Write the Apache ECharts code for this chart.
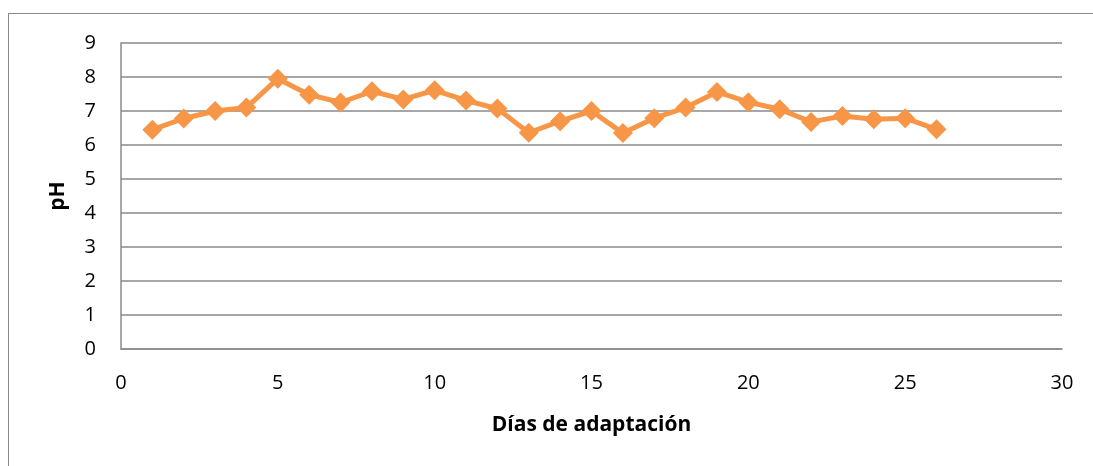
<!DOCTYPE html>
<html>
<head>
<meta charset="utf-8">
<script src="https://cdn.jsdelivr.net/npm/echarts@6/dist/echarts.min.js"></script>
<style>
  html, body { margin: 0; padding: 0; background: #fff; }
  #chart { width: 1093px; height: 466px; }
  .frame {
    position: absolute;
    left: 8px;
    top: 13px;
    right: 0;
    bottom: 0;
    border-top: 1.5px solid #8a8a8a;
    border-left: 1.5px solid #8a8a8a;
    pointer-events: none;
  }
</style>
</head>
<body>
<div id="chart"></div>
<div class="frame"></div>
<script>
// ============ Data ============
const days = [1, 2, 3, 4, 5, 6, 7, 8, 9, 10, 11, 12, 13, 14, 15, 16, 17, 18, 19, 20, 21, 22, 23, 24, 25, 26]
const phValues = [6.45, 6.78, 7.0, 7.1, 7.95, 7.48, 7.25, 7.58, 7.34, 7.61, 7.31, 7.07, 6.36, 6.7, 7.0,
  6.35, 6.79, 7.1, 7.56, 7.26, 7.05, 6.68, 6.85, 6.76, 6.79, 6.46]

const xTitle = 'Días de adaptación'
const yTitle = 'pH'

const font = '"Open Sans", "Noto Sans", sans-serif'
const gridColor = '#8a8a8a'

const chart = echarts.init(document.getElementById('chart'))
chart.setOption({
  animation: false,
  grid: { left: 121, right: 31, top: 43, bottom: 117 },
  xAxis: {
    type: 'value',
    min: 0,
    max: 30,
    interval: 5,
    name: xTitle,
    nameLocation: 'middle',
    nameGap: 66,
    nameTextStyle: { fontFamily: font, fontSize: 21, fontWeight: 'bold', color: '#000' },
    axisLine: { show: true, lineStyle: { color: gridColor, width: 1.5 } },
    axisTick: { show: false },
    axisLabel: { fontFamily: font, fontSize: 20, color: '#000', margin: 24 },
    splitLine: { show: false },
  },
  yAxis: {
    type: 'value',
    min: 0,
    max: 9,
    interval: 1,
    name: yTitle,
    nameLocation: 'middle',
    nameGap: 52,
    nameRotate: 90,
    nameTextStyle: { fontFamily: font, fontSize: 21, fontWeight: 'bold', color: '#000' },
    axisLine: { show: true, lineStyle: { color: gridColor, width: 1.5 } },
    axisTick: { show: false },
    axisLabel: { fontFamily: font, fontSize: 20, color: '#000', margin: 25 },
    splitLine: { show: true, lineStyle: { color: gridColor, width: 1.5 } },
  },
  series: [
    {
      type: 'line',
      data: days.map((d, i) => [d, phValues[i]]),
      symbol: 'diamond',
      symbolSize: 20,
      lineStyle: { color: '#f79646', width: 5 },
      itemStyle: { color: '#f79646' },
    },
  ],
})
</script>
</body>
</html>
